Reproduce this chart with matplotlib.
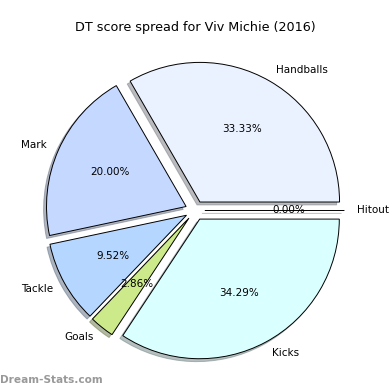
import matplotlib
matplotlib.use("Agg")
import matplotlib.pyplot as plt

categories = ["Handballs", "Mark", "Tackle", "Goals", "Kicks", "Hitout"]
values = [35, 21, 10, 3, 36, 0]
colors = ["#eaf1ff", "#c5d8ff", "#b5d6ff", "#cdea8a", "#daffff", "#ffffff"]
title = "DT score spread for Viv Michie (2016)"

fig = plt.figure(figsize=(3.9, 3.9), dpi=100)
ax = fig.add_axes([0.0526, 0.0128, 0.895, 0.895])
wedges, texts, autotexts = ax.pie(
    values, labels=categories, colors=colors, explode=[0.07] * len(values),
    autopct="%1.2f%%", shadow={"ox": -0.015, "oy": -0.015, "shade": 0.5},
    startangle=0, labeldistance=1.09,
    wedgeprops=dict(edgecolor="black", linewidth=0.7),
    textprops=dict(fontsize=7.5))
ax.set_aspect("equal")
fig.text(0.5, 0.93, title, ha="center", va="center", fontsize=9.2)
fig.text(0.0, 0.025, "Dream-Stats.com", ha="left", va="center", fontsize=7.6,
         color="#999999", fontweight="bold")
fig.savefig("out.png", dpi=100)
